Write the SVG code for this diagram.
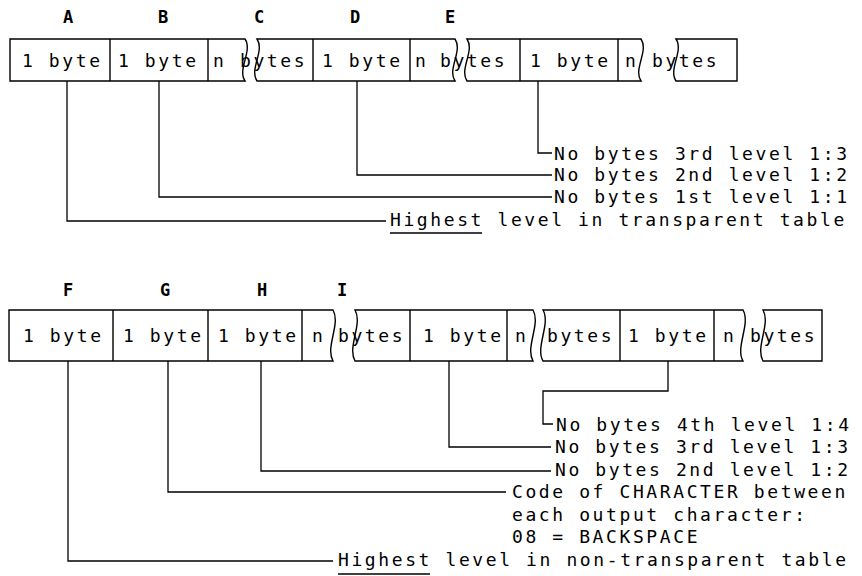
<svg xmlns="http://www.w3.org/2000/svg" width="862" height="576" viewBox="0 0 862 576">
<style>
.bx{fill:none;stroke:#000;stroke-width:1.4}
.ln{fill:none;stroke:#000;stroke-width:1.3}
.t{font-family:"DejaVu Sans Mono","Liberation Mono",monospace;font-size:18px;letter-spacing:2.6px;fill:#000}
.L{font-family:"DejaVu Sans Mono","Liberation Mono",monospace;font-size:17px;font-weight:bold;text-anchor:middle;fill:#000}
</style>
<rect width="862" height="576" fill="#fff"/>
<g id="letters-top">
<text class="L" x="68" y="23">A</text>
<text class="L" x="163" y="23">B</text>
<text class="L" x="259" y="23">C</text>
<text class="L" x="355" y="23">D</text>
<text class="L" x="450" y="23">E</text>
</g>
<g id="record-top">
<path class="bx" d="M10,39 H245 C253,51 237,69 245,81 H10 Z"/>
<path class="bx" d="M257,39 H455 C463,51 447,69 455,81 H257 C249,69 265,51 257,39 Z"/>
<path class="bx" d="M467,39 H641 C649,51 633,69 641,81 H467 C459,69 475,51 467,39 Z"/>
<path class="bx" d="M676,39 H737 V81 H676 C668,69 684,51 676,39 Z"/>
<path class="bx" d="M110,39 V81 M208,39 V81 M313,39 V81 M410,39 V81 M520,39 V81 M618,39 V81"/>
<text class="t" x="22" y="67">1 byte</text>
<text class="t" x="118" y="67">1 byte</text>
<text class="t" x="213" y="67">n</text>
<text class="t" x="240" y="67">bytes</text>
<text class="t" x="322" y="67">1 byte</text>
<text class="t" x="415" y="67">n</text>
<text class="t" x="440" y="67">bytes</text>
<text class="t" x="530" y="67">1 byte</text>
<text class="t" x="625" y="67">n</text>
<text class="t" x="652" y="67">bytes</text>
</g>
<g id="connectors-top">
<path class="ln" d="M67,81 V221 H386"/>
<path class="ln" d="M159,81 V197 H552"/>
<path class="ln" d="M357,81 V175 H552"/>
<path class="ln" d="M538,81 V153 H552"/>
<path class="ln" d="M390,233 H482"/>
</g>
<g id="labels-top">
<text class="t" x="554" y="160">No bytes 3rd level 1:3</text>
<text class="t" x="554" y="181">No bytes 2nd level 1:2</text>
<text class="t" x="554" y="203">No bytes 1st level 1:1</text>
<text class="t" x="390" y="226">Highest level in transparent table</text>
</g>
<g id="letters-bottom">
<text class="L" x="68" y="296">F</text>
<text class="L" x="165" y="296">G</text>
<text class="L" x="262" y="296">H</text>
<text class="L" x="342" y="296">I</text>
</g>
<g id="record-bottom">
<path class="bx" d="M9,310 H333 C341,324 325,347 333,361 H9 Z"/>
<path class="bx" d="M355,310 H533 C541,324 525,347 533,361 H355 C347,347 363,324 355,310 Z"/>
<path class="bx" d="M543,310 H743 C751,324 735,347 743,361 H543 C535,347 551,324 543,310 Z"/>
<path class="bx" d="M763,310 H822 V361 H763 C755,347 771,324 763,310 Z"/>
<path class="bx" d="M113,310 V361 M208,310 V361 M302,310 V361 M410,310 V361 M507,310 V361 M620,310 V361 M714,310 V361"/>
<text class="t" x="23" y="342">1 byte</text>
<text class="t" x="123" y="342">1 byte</text>
<text class="t" x="218" y="342">1 byte</text>
<text class="t" x="312" y="342">n</text>
<text class="t" x="338" y="342">bytes</text>
<text class="t" x="423" y="342">1 byte</text>
<text class="t" x="515" y="342">n</text>
<text class="t" x="547" y="342">bytes</text>
<text class="t" x="628" y="342">1 byte</text>
<text class="t" x="723" y="342">n</text>
<text class="t" x="750" y="342">bytes</text>
</g>
<g id="connectors-bottom">
<path class="ln" d="M68,361 V561 H333"/>
<path class="ln" d="M168,361 V492 H506"/>
<path class="ln" d="M261,361 V471 H551"/>
<path class="ln" d="M449,361 V447 H551"/>
<path class="ln" d="M668,361 V391 H543 V424 H553"/>
<path class="ln" d="M338,574 H430"/>
</g>
<g id="labels-bottom">
<text class="t" x="556" y="431">No bytes 4th level 1:4</text>
<text class="t" x="555" y="453">No bytes 3rd level 1:3</text>
<text class="t" x="555" y="476">No bytes 2nd level 1:2</text>
<text class="t" x="512" y="498">Code of CHARACTER between</text>
<text class="t" x="512" y="521">each output character:</text>
<text class="t" x="512" y="543">08 = BACKSPACE</text>
<text class="t" x="338" y="566">Highest level in non-transparent table</text>
</g>
</svg>
